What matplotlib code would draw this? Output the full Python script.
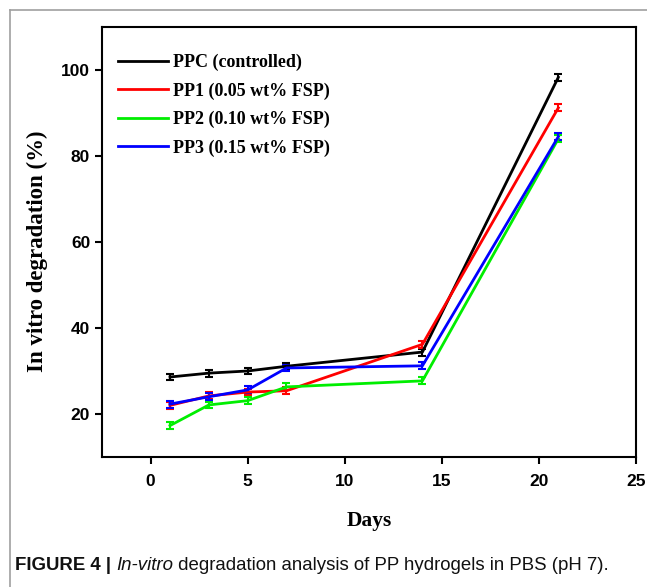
import matplotlib
matplotlib.use('Agg')
import matplotlib.pyplot as plt
from matplotlib.lines import Line2D

# Dati
days = [1, 3, 5, 7, 14, 21]
ppc = [28.6, 29.5, 30.0, 31.1, 34.4, 98.3]
pp1 = [22.0, 24.2, 25.1, 25.4, 36.2, 91.2]
pp2 = [17.3, 22.1, 23.1, 26.3, 27.7, 84.0]
pp3 = [22.3, 24.0, 25.6, 30.7, 31.2, 84.5]
errs = [0.8, 0.8, 0.8, 0.8, 0.8, 0.8]
labels = ['PPC (controlled)', 'PP1 (0.05 wt% FSP)', 'PP2 (0.10 wt% FSP)', 'PP3 (0.15 wt% FSP)']
series = [ppc, pp1, pp2, pp3]
colors = ['#000000', '#ff0000', '#00ee00', '#0000ff']

fig = plt.figure(figsize=(6.47, 5.87), dpi=100)
ax = fig.add_axes([0.1577, 0.2215, 0.8253, 0.7325])

for y, c, lab in zip(series, colors, labels):
    ax.errorbar(days, y, yerr=errs, color=c, lw=2, elinewidth=1.5,
                capsize=3, capthick=1.5, label=lab)

ax.set_xlim(-2.5, 25)
ax.set_ylim(10, 110)
ax.set_xticks([0, 5, 10, 15, 20, 25])
ax.set_yticks([20, 40, 60, 80, 100])
for s in ax.spines.values():
    s.set_linewidth(1.5)
ax.tick_params(direction='out', length=5, width=1.5, top=False, right=False)
ax.tick_params(axis='x', pad=7)
for t in ax.get_xticklabels() + ax.get_yticklabels():
    t.set_fontfamily('Liberation Sans')
    t.set_fontweight('bold')
    t.set_fontsize(12.5)

ax.set_xlabel('Days', family='Liberation Serif', weight='bold', fontsize=15.5, labelpad=16)
ax.set_ylabel('In vitro degradation (%)', family='Liberation Serif', weight='bold',
              fontsize=16.5)
ax.yaxis.set_label_coords(-0.101, 0.478)

handles = [Line2D([0], [0], color=c, lw=2) for c in colors]
ax.legend(handles, labels, loc='upper left', bbox_to_anchor=(0.0, 0.975), frameon=False,
          prop={'family': 'Liberation Serif', 'weight': 'bold', 'size': 13},
          handlelength=2.75, handletextpad=0.3, labelspacing=0.62)

# cornice grigia della figura
fig.add_artist(Line2D([10 / 647, 1], [1 - 10 / 587, 1 - 10 / 587], color='#a0a0a0', lw=1.2))
fig.add_artist(Line2D([10 / 647, 10 / 647], [0, 1 - 10 / 587], color='#a0a0a0', lw=1.2))

# didascalia
fig.canvas.draw()
r = fig.canvas.get_renderer()
parts = [('FIGURE 4 | ', 'bold', 'normal'), ('In-vitro', 'normal', 'italic'),
         (' degradation analysis of PP hydrogels in PBS (pH 7).', 'normal', 'normal')]
fam = ['Liberation Sans']
size = 15
total = 0
for txt, w, st in parts:
    t = fig.text(0, 0, txt, family=fam, weight=w, style=st, fontsize=size)
    total += t.get_window_extent(renderer=r).width
    t.remove()
size = min(size, size * 597 / total)
x = 15 / 647
yc = 1 - 566 / 587
for txt, w, st in parts:
    t = fig.text(x, yc, txt, family=fam, weight=w, style=st,
                 fontsize=size, va='center', ha='left', color='#111111')
    bb = t.get_window_extent(renderer=r)
    x += bb.width / fig.bbox.width

fig.savefig('out.png', dpi=100)
